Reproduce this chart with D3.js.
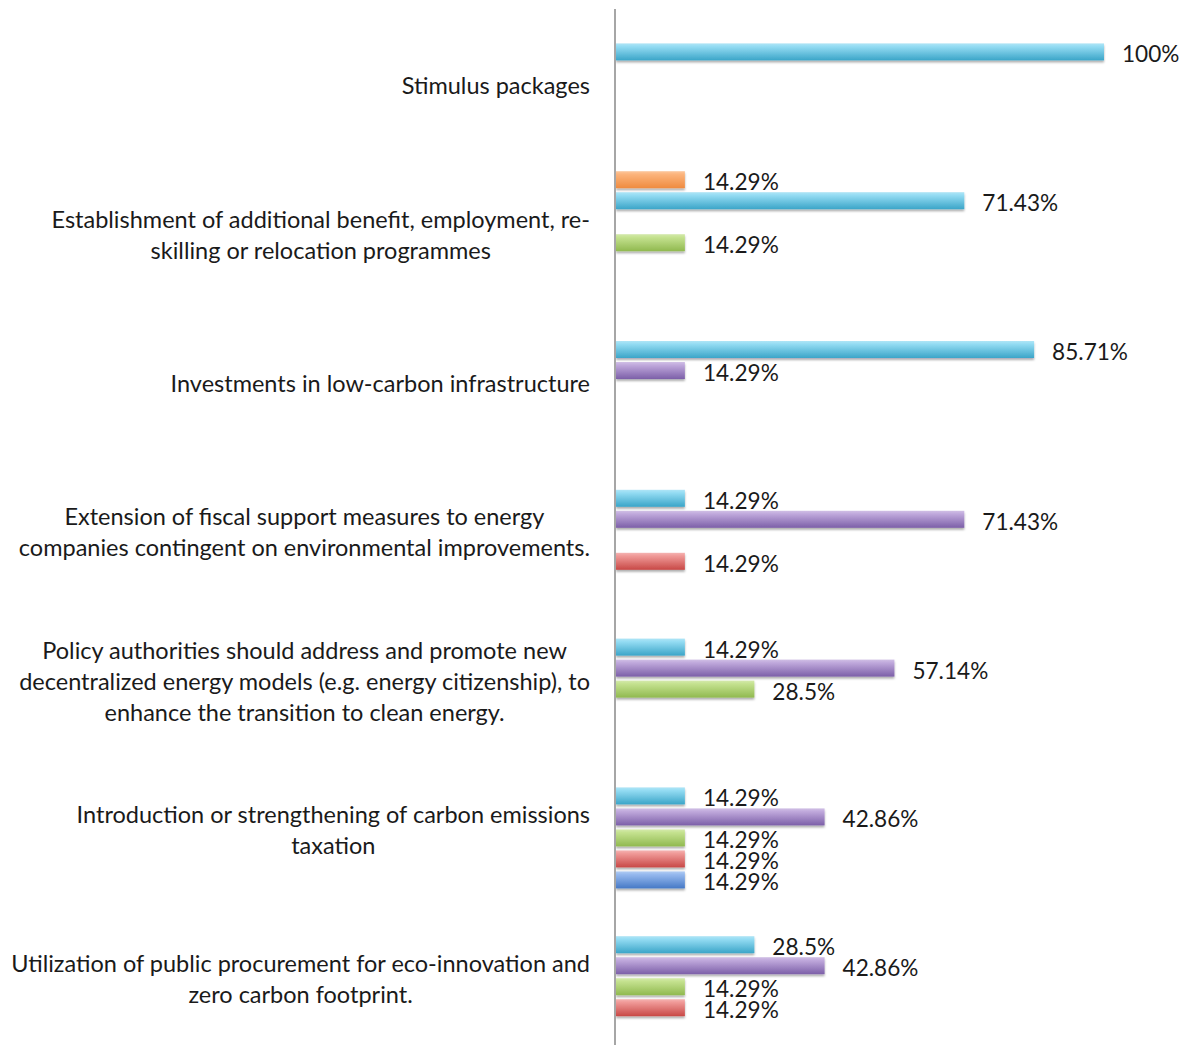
<!DOCTYPE html>
<html>
<head>
<meta charset="utf-8">
<script src="https://cdn.jsdelivr.net/npm/d3@7"></script>
<style>
  html, body { margin: 0; padding: 0; background: #ffffff; }
  svg { display: block; }
  text { font-family: Lato, "Open Sans", sans-serif; fill: #1a1a1a; }
</style>
</head>
<body>
<svg id="chart" width="1183" height="1045"></svg>
<script>
// Policy measures (top to bottom) – each may span several lines
const categories = [
  ["Stimulus packages"],
  ["Establishment of additional benefit, employment, re-", "skilling or relocation programmes"],
  ["Investments in low-carbon infrastructure"],
  ["Extension of fiscal support measures to energy", "companies contingent on environmental improvements."],
  ["Policy authorities should address and promote new", "decentralized energy models (e.g. energy citizenship), to", "enhance the transition to clean energy."],
  ["Introduction or strengthening of carbon emissions", "taxation"],
  ["Utilization of public procurement for eco-innovation and", "zero carbon footprint."]
];

// Response series, in the order they are stacked within each group
const seriesKeys = ["s1", "s2", "s3", "s4", "s5", "s6"];

// Share of responses (%) per category for each series; null = no bar
const s1 = [null, 14.29, null, null, null, null, null];
const s2 = [100, 71.43, 85.71, 14.29, 14.29, 14.29, 28.5];
const s3 = [null, null, 14.29, 71.43, 57.14, 42.86, 42.86];
const s4 = [null, 14.29, null, null, 28.5, 14.29, 14.29];
const s5 = [null, null, null, 14.29, null, 14.29, 14.29];
const s6 = [null, null, null, null, null, 14.29, null];

const seriesValues = { s1, s2, s3, s4, s5, s6 };

// Top / bottom colours of each bar's gradient
const seriesColors = {
  s1: ["#fcb47c", "#ef8b3f"],
  s2: ["#94dcf3", "#3ba5c8"],
  s3: ["#c0a9dc", "#7c5fa8"],
  s4: ["#c5e290", "#90b94f"],
  s5: ["#f09a98", "#c84846"],
  s6: ["#96b9ee", "#4679c6"]
};

const svg = d3.select("#chart");
const axisX = 615;
const x = d3.scaleLinear().domain([0, 100]).range([axisX, 1104]);

const y = d3.scaleBand()
  .domain(d3.range(categories.length))
  .range([9, 1050.6])
  .padding(0);

const ySub = d3.scaleBand()
  .domain(seriesKeys)
  .range([0, y.bandwidth()])
  .paddingInner(0.19)
  .paddingOuter(0.638);

// gradients + soft shadow
const defs = svg.append("defs");
seriesKeys.forEach(k => {
  const g = defs.append("linearGradient")
    .attr("id", "grad-" + k)
    .attr("x1", 0).attr("y1", 0).attr("x2", 0).attr("y2", 1);
  const [top, bottom] = seriesColors[k];
  g.append("stop").attr("offset", "0%").attr("stop-color", d3.interpolateRgb(top, "#ffffff")(0.25));
  g.append("stop").attr("offset", "18%").attr("stop-color", top);
  g.append("stop").attr("offset", "100%").attr("stop-color", bottom);
});
const shadow = defs.append("filter").attr("id", "shadow")
  .attr("x", "-5%").attr("y", "-30%").attr("width", "110%").attr("height", "180%");
shadow.append("feDropShadow")
  .attr("dx", 0).attr("dy", 2).attr("stdDeviation", 1.3)
  .attr("flood-color", "#000").attr("flood-opacity", 0.32);

// flatten into bar records
const bars = [];
categories.forEach((c, i) => {
  seriesKeys.forEach(k => {
    const v = seriesValues[k][i];
    if (v != null) bars.push({ cat: i, key: k, value: v });
  });
});

const plot = svg.append("g");

plot.selectAll("rect.bar")
  .data(bars)
  .join("rect")
  .attr("class", "bar")
  .attr("x", x(0) + 1)
  .attr("y", d => y(d.cat) + ySub(d.key))
  .attr("width", d => x(d.value) - x(0) - 1)
  .attr("height", ySub.bandwidth())
  .attr("fill", d => `url(#grad-${d.key})`)
  .attr("filter", "url(#shadow)");

// value labels
plot.selectAll("text.value")
  .data(bars)
  .join("text")
  .attr("class", "value")
  .attr("x", d => x(d.value) + 18)
  .attr("y", d => y(d.cat) + ySub(d.key) + ySub.bandwidth() / 2 + 2)
  .attr("dominant-baseline", "central")
  .attr("font-size", 22.6)
  .text(d => `${d.value}%`);

// vertical category axis line
svg.append("line")
  .attr("x1", axisX).attr("x2", axisX)
  .attr("y1", 9).attr("y2", 1045)
  .attr("stroke", "#a6a6a6").attr("stroke-width", 2);

// category labels: block centred, right edge at 590
const lineH = 31;
const labelRight = 590;
const lab = svg.append("g");
categories.forEach((lines, i) => {
  const cy = y(i) + y.bandwidth() / 2 + 2;
  const g = lab.append("g");
  const texts = lines.map((t, j) => g.append("text")
    .attr("font-size", 23.5)
    .attr("text-anchor", "middle")
    .attr("dominant-baseline", "central")
    .attr("y", cy + (j - (lines.length - 1) / 2) * lineH)
    .text(t));
  const maxW = d3.max(texts, t => t.node().getComputedTextLength());
  texts.forEach(t => t.attr("x", labelRight - maxW / 2));
});
</script>
</body>
</html>
